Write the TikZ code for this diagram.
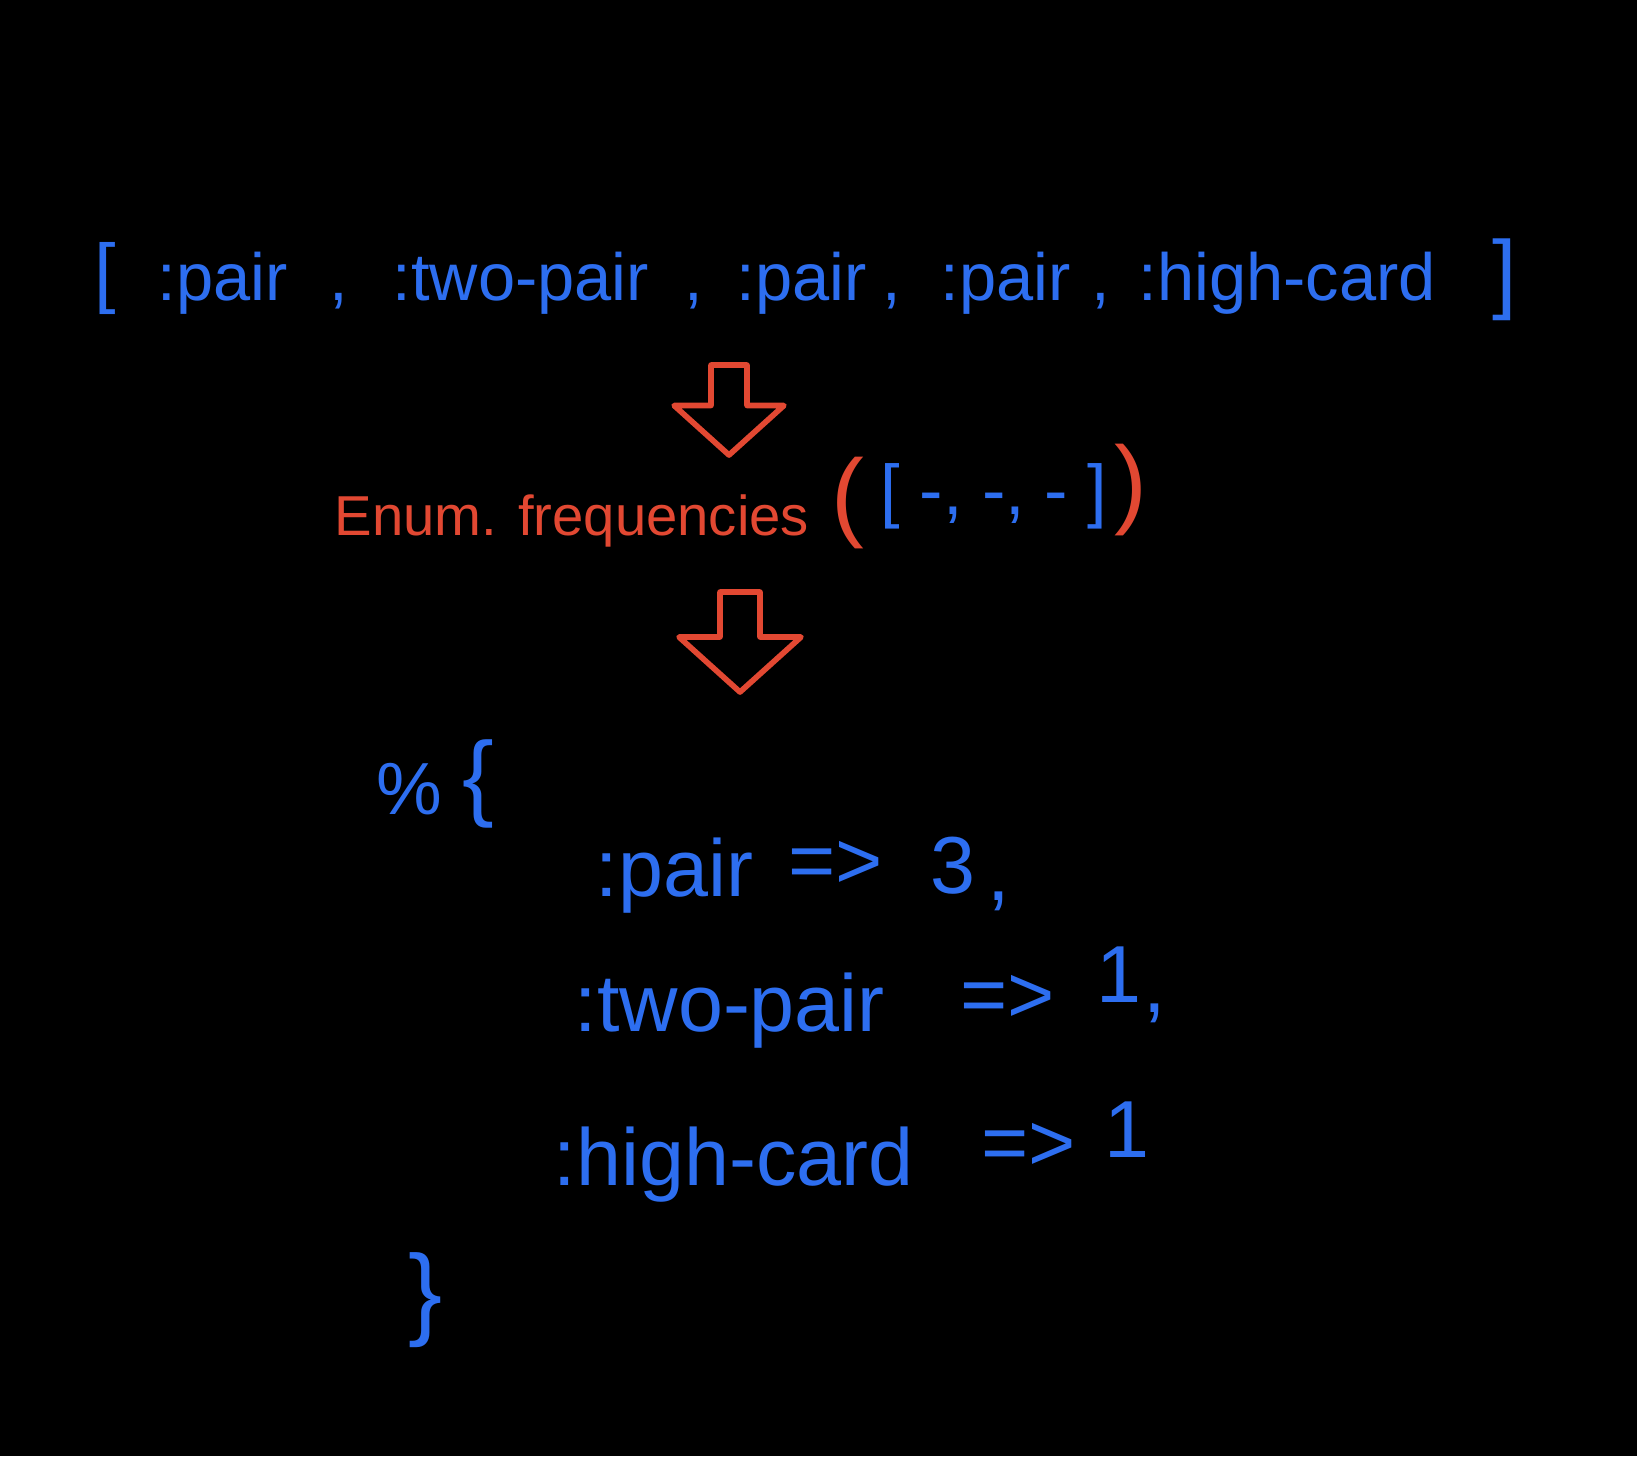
\documentclass[tikz,border=0pt]{standalone}
\usepackage{fontspec}
\setmainfont{Liberation Sans}
\usepackage{xcolor}
\usetikzlibrary{arrows.meta, positioning, calc}
\definecolor{ink-blue}{RGB}{45, 110, 240}
\definecolor{ink-red}{RGB}{226, 72, 50}

\begin{document}
\begin{tikzpicture}[x=0.01cm, y=-0.01cm,
        tok/.style={anchor=base west, inner sep=0pt, text=ink-blue},
        lst/.style={tok, font=\fontsize{19}{23}\selectfont},
        big/.style={tok, font=\fontsize{23}{28}\selectfont},
        fn/.style={tok, text=ink-red, font=\fontsize{16}{20}\selectfont},
        arr/.style={draw=ink-red, line width=1.6pt, line join=round},
        downarrow/.pic={
          \draw[arr] (-20,0) -- (20,0) -- (20,45) -- (61,45) -- (0,100)
                -- (-61,45) -- (-20,45) -- cycle;
        }
      ]
        \fill[black] (0,0) rectangle (1637,1456);
        % list
        \node[lst, font=\fontsize{22}{26}\selectfont] (lb) at (94,298) {[};
        \node[lst] (p1) at (157,300) {:pair};
        \node[lst] (c1) at (329,300) {,};
        \node[lst] (tp) at (392,300) {:two-pair};
        \node[lst] (c2) at (684,300) {,};
        \node[lst] (p2) at (736,300) {:pair};
        \node[lst] (c3) at (882,300) {,};
        \node[lst] (p3) at (940,300) {:pair};
        \node[lst] (c4) at (1091,300) {,};
        \node[lst] (hc) at (1138,300) {:high-card};
        \node[lst, font=\fontsize{25}{29}\selectfont] (rb) at (1492,302) {]};
        \pic[scale=0.9] at (729,365) {downarrow};
        % call
        \node[fn] (enum) at (334,535) {Enum. frequencies};
        \node[fn, font=\fontsize{28}{32}\selectfont] (lp) at (831,528) {(};
        \node[tok, font=\fontsize{20}{24}\selectfont] (args) at (880,514) {[ -, -, - ]};
        \node[fn, font=\fontsize{28}{32}\selectfont] (rp) at (1114,515) {)};
        \pic at (740,592) {downarrow};
        % map
        \node[tok, font=\fontsize{21}{25}\selectfont] (pct) at (376,814) {\%};
        \node[tok, font=\fontsize{27}{31}\selectfont] (ob) at (462,808) {\{};
        \node[big] (k1) at (595,896) {:pair};
        \node[big] (a1) at (788,888) {=>};
        \node[big] (v1) at (930,893) {3};
        \node[big] (m1) at (987,900) {,};
        \node[big] (k2) at (574,1031) {:two-pair};
        \node[big] (a2) at (960,1022) {=>};
        \node[big] (v2) at (1096,1002) {1};
        \node[big] (m2) at (1143,1012) {,};
        \node[big] (k3) at (553,1185) {:high-card};
        \node[big] (a3) at (981,1170) {=>};
        \node[big] (v3) at (1104,1157) {1};
        \node[tok, font=\fontsize{29}{33}\selectfont] (cb) at (408,1326) {\}};
      \end{tikzpicture}
\end{document}
